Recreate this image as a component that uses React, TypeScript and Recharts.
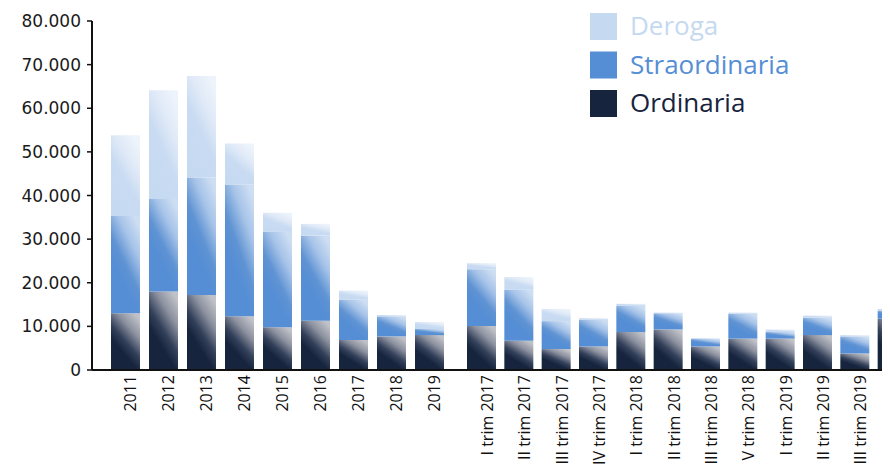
import React from "react";
import { BarChart, Bar, XAxis, YAxis } from "recharts";

const YEARS = ["2011", "2012", "2013", "2014", "2015", "2016", "2017", "2018", "2019"];
const ORD_YEAR = [13000, 18000, 17200, 12300, 9800, 11300, 6900, 7700, 8000];
const STR_YEAR = [22300, 21200, 26900, 30200, 21850, 19500, 9200, 4600, 1400];
const DER_YEAR = [18500, 24900, 23300, 9400, 4400, 2700, 2100, 300, 1600];

const QUARTERS = [
  "I trim 2017",
  "II trim 2017",
  "III trim 2017",
  "IV trim 2017",
  "I trim 2018",
  "II trim 2018",
  "III trim 2018",
  "V trim 2018",
  "I trim 2019",
  "II trim 2019",
  "III trim 2019",
  "IV trim 2019",
];
const ORD_Q = [10100, 6700, 4800, 5400, 8700, 9300, 5400, 7200, 7200, 8000, 3800, 11800];
const STR_Q = [13000, 11700, 6400, 6100, 6000, 3700, 1700, 5700, 1500, 4000, 3900, 1800];
const DER_Q = [1400, 2900, 2800, 400, 500, 200, 200, 300, 600, 500, 300, 400];

const Y_TICKS = [0, 10000, 20000, 30000, 40000, 50000, 60000, 70000, 80000];

const SERIES = [
  { key: "ord", name: "Ordinaria", color: "#17243e" },
  { key: "str", name: "Straordinaria", color: "#558ed5" },
  { key: "der", name: "Deroga", color: "#c5d9f1" },
];

const yearData = YEARS.map((name, i) => ({
  name,
  ord: ORD_YEAR[i],
  str: STR_YEAR[i],
  der: DER_YEAR[i],
}));
const quarterData = QUARTERS.map((name, i) => ({
  name,
  ord: ORD_Q[i],
  str: STR_Q[i],
  der: DER_Q[i],
}));

const fmt = (v: number) => String(v).replace(/\B(?=(\d{3})+(?!\d))/g, ".");

function Gradients({ p }: { p: string }) {
  return (
    <defs>
      <linearGradient id={`${p}-ord`} x1="0.8" y1="0" x2="0.2" y2="1">
        <stop offset="0" stopColor="#c0c2c8" />
        <stop offset="0.25" stopColor="#8d92a0" />
        <stop offset="0.5" stopColor="#33405a" />
        <stop offset="0.68" stopColor="#17243e" />
        <stop offset="1" stopColor="#17243e" />
      </linearGradient>
      <linearGradient id={`${p}-str`} x1="0.8" y1="0" x2="0.2" y2="1">
        <stop offset="0" stopColor="#cddef3" />
        <stop offset="0.25" stopColor="#a6c3e8" />
        <stop offset="0.5" stopColor="#5f93d3" />
        <stop offset="0.68" stopColor="#558ed5" />
        <stop offset="1" stopColor="#558ed5" />
      </linearGradient>
      <linearGradient id={`${p}-der`} x1="0.8" y1="0" x2="0.2" y2="1">
        <stop offset="0" stopColor="#eef4fb" />
        <stop offset="0.3" stopColor="#dfe9f7" />
        <stop offset="0.55" stopColor="#c8dbf2" />
        <stop offset="1" stopColor="#c5d9f1" />
      </linearGradient>
    </defs>
  );
}

const xTick = { fontSize: 16, fill: "#111", fontFamily: "Open Sans" };

export default function App() {
  return (
    <div
      style={{
        position: "relative",
        width: 882,
        height: 460,
        overflow: "hidden",
        background: "#fff",
      }}
    >
      <div style={{ position: "absolute", left: 0, top: 0 }}>
        <BarChart
          width={440}
          height={460}
          data={yearData}
          margin={{ top: 13, right: 0, left: 0, bottom: 0 }}
          barSize={29}
        >
          <Gradients p="a" />
          <YAxis
            width={84}
            domain={[0, 80000]}
            ticks={Y_TICKS}
            tickFormatter={fmt}
            interval={0}
            axisLine={{ stroke: "#111", strokeWidth: 2 }}
            tickLine={{ stroke: "#111", strokeWidth: 1.5 }}
            tickSize={5}
            tickMargin={6}
            tick={{ fontSize: 17, fill: "#1a1a1a", fontFamily: "DejaVu Sans" }}
          />
          <XAxis
            dataKey="name"
            height={98}
            interval={0}
            angle={-90}
            textAnchor="end"
            tickLine={false}
            tickSize={3}
            tickMargin={2}
            padding={{ left: 14, right: 0 }}
            axisLine={{ stroke: "#111", strokeWidth: 2 }}
            tick={xTick}
          />
          {SERIES.map((s) => (
            <Bar
              key={s.key}
              dataKey={s.key}
              name={s.name}
              stackId="a"
              fill={`url(#a-${s.key})`}
              isAnimationActive={false}
            />
          ))}
        </BarChart>
      </div>
      <div style={{ position: "absolute", left: 440, top: 0 }}>
        <BarChart
          width={463}
          height={460}
          data={quarterData}
          margin={{ top: 13, right: 0, left: 0, bottom: 0 }}
          barSize={29}
        >
          <Gradients p="b" />
          <YAxis hide domain={[0, 80000]} ticks={Y_TICKS} />
          <XAxis
            dataKey="name"
            height={98}
            interval={0}
            angle={-90}
            textAnchor="end"
            tickLine={false}
            tickSize={3}
            tickMargin={2}
            padding={{ left: 15, right: 0 }}
            axisLine={{ stroke: "#111", strokeWidth: 2 }}
            tick={xTick}
          />
          {SERIES.map((s) => (
            <Bar
              key={s.key}
              dataKey={s.key}
              name={s.name}
              stackId="b"
              fill={`url(#b-${s.key})`}
              isAnimationActive={false}
            />
          ))}
        </BarChart>
      </div>
      <svg
        width={882}
        height={460}
        style={{ position: "absolute", left: 0, top: 0, pointerEvents: "none" }}
      >
        {[...SERIES].reverse().map((s, i) => (
          <g key={s.key}>
            <rect x={582} y={5 + i * 38.5} width={27} height={27} fill={s.color} />
            <text
              x={622}
              y={27 + i * 38.5}
              fontSize={26}
              fontFamily="Open Sans"
              fill={s.color}
            >
              {s.name}
            </text>
          </g>
        ))}
      </svg>
    </div>
  );
}
